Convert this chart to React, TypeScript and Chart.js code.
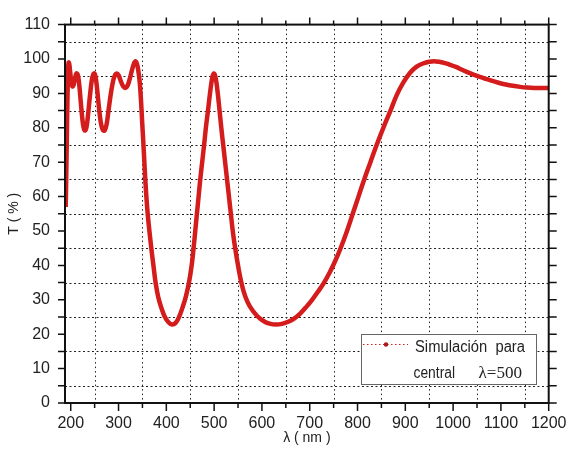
import { useEffect, useRef } from "react";
import { Chart, registerables } from "chart.js";

Chart.register(...registerables);

// Simulated transmittance spectrum of the filter designed for λ = 500 nm
const wavelengths = [
  189.5, 190.5, 191.5, 192.5, 193.5, 194.5, 195.5, 197, 199, 201, 203.5, 206, 209, 212, 215, 218,
  221, 224, 227, 230, 233, 236, 240, 244, 247, 249.5, 252, 255, 259, 263, 267, 271, 275, 279, 284,
  289, 293, 296, 300, 305, 310, 314.5, 319, 324, 329, 333, 336, 339, 342, 344.5, 347, 349.5, 352,
  355, 358, 361, 365, 369, 373, 377, 383, 390, 397, 405, 412, 419, 426, 434, 441, 448, 453, 457,
  460.5, 464, 467.5, 471, 475, 479, 483, 487, 490.5, 494, 497, 499.5, 502, 505, 508, 511, 515,
  519, 523, 527, 531, 535, 539, 544, 550, 557, 565, 575, 590, 605, 618, 629, 642, 655, 668, 680,
  692, 705, 718, 730, 742, 754, 766, 778, 790, 802, 814, 827, 840, 854, 869, 882, 896, 910, 923,
  937, 950, 964, 978, 992, 1006, 1020, 1035, 1050, 1065, 1080, 1095, 1110, 1125, 1140, 1155, 1170,
  1185, 1200,
];

const transmittance = [
  57, 65, 74, 83, 91, 96.5, 99, 98.5, 96, 93.5, 92, 92.5, 94.5, 95.8, 95.3, 92.2,
  87.5, 83, 80, 79.2, 80.2, 83.5, 89, 93.8, 95.5, 95.8, 94.8, 91.5, 86, 81.5, 79.4, 79.2, 81, 85, 90,
  93.8, 95.4, 95.8, 95.3, 93.5, 92, 91.6, 92.3, 94.5, 97.2, 98.9, 99.3, 98.4, 96, 93, 88, 81.5, 75.5,
  67.5, 60.5, 55, 49.5, 44.5, 40, 35.5, 30.8, 27.5, 25, 23.4, 22.8, 23.2, 24.8, 27.8, 31, 35.5, 40, 45,
  50, 55, 60, 65, 70, 75, 80.3, 84.8, 89, 92.8, 95.1, 95.8, 95.2, 93, 89.5, 85.5, 80,
  75, 70, 65, 60, 55, 50, 45, 40, 35, 31, 28, 25.3, 23.7, 23, 22.8, 23, 23.6, 24.6, 26,
  27.8, 30, 32.5, 35, 38, 41.5, 45.5, 50, 55, 60, 65, 70, 75, 80, 85, 89.5, 93.2, 96, 97.7,
  98.7, 99.2, 99.3, 99, 98.4, 97.7, 96.8, 95.9, 95.1, 94.4, 93.7, 93.1, 92.6, 92.2, 91.9, 91.7, 91.6,
  91.6, 91.6,
];

// Axis ticks: labelled every 100 nm / 10 %, with intermediate ticks and dotted grid between
const xTickValues = [
  200, 250, 300, 350, 400, 450, 500, 550, 600, 650, 700, 750, 800, 850, 900, 950, 1000, 1050,
  1100, 1150, 1200,
];
const yTickValues = [
  0, 5, 10, 15, 20, 25, 30, 35, 40, 45, 50, 55, 60, 65, 70, 75, 80, 85, 90, 95, 100, 105, 110,
];
const xGridValues = [250, 350, 450, 550, 650, 750, 850, 950, 1050, 1150];
const yGridValues = [5, 15, 25, 35, 45, 55, 65, 75, 85, 95, 105];

const xTitle = "λ ( nm )";
const yTitle = "T ( % )";
const legendLine1 = "Simulación  para";
const legendLine2 = "central";
const legendLambda = "λ=500";

const CURVE_RED = "#d41c1c";
const SANS = "'Liberation Sans', Arial, sans-serif";
const SERIF = "'Liberation Serif', 'Times New Roman', serif";

const framePlugin = {
  id: "frameAndGrid",
  beforeDatasetsDraw(chart: any) {
    const { ctx, chartArea, scales } = chart;
    const { left, right, top, bottom } = chartArea;
    ctx.save();
    ctx.strokeStyle = "#222";
    ctx.lineWidth = 1;
    ctx.setLineDash([2, 2.5]);
    for (const v of yGridValues) {
      const py = Math.round(scales.y.getPixelForValue(v)) + 0.5;
      ctx.beginPath();
      ctx.moveTo(left, py);
      ctx.lineTo(right, py);
      ctx.stroke();
    }
    ctx.setLineDash([1.5, 3]);
    for (const v of xGridValues) {
      const px = Math.round(scales.x.getPixelForValue(v)) + 0.5;
      ctx.beginPath();
      ctx.moveTo(px, top);
      ctx.lineTo(px, bottom);
      ctx.stroke();
    }
    ctx.restore();
  },
  afterDraw(chart: any) {
    const { ctx, chartArea, scales } = chart;
    const { left, right, top, bottom } = chartArea;
    ctx.save();
    ctx.strokeStyle = "#111";
    ctx.setLineDash([]);
    ctx.lineWidth = 1.5;
    for (const v of yTickValues) {
      const py = scales.y.getPixelForValue(v);
      ctx.beginPath();
      ctx.moveTo(left, py);
      ctx.lineTo(left - 7, py);
      ctx.moveTo(right, py);
      ctx.lineTo(right + 8, py);
      ctx.stroke();
    }
    for (const v of xTickValues) {
      const px = scales.x.getPixelForValue(v);
      const major = v % 100 === 0;
      ctx.beginPath();
      ctx.moveTo(px, bottom);
      ctx.lineTo(px, bottom + (major ? 8 : 5));
      ctx.moveTo(px, top);
      ctx.lineTo(px, top - (major ? 7 : 4));
      ctx.stroke();
    }
    ctx.lineWidth = 2;
    ctx.strokeRect(left, top, right - left, bottom - top);

    // legend box
    const bx = 361;
    const by = 334;
    const bw = 175;
    const bh = 50;
    ctx.fillStyle = "#fff";
    ctx.fillRect(bx, by, bw, bh);
    ctx.lineWidth = 1;
    ctx.strokeStyle = "#666";
    ctx.strokeRect(bx + 0.5, by + 0.5, bw, bh);
    ctx.strokeStyle = CURVE_RED;
    ctx.setLineDash([1.5, 2.5]);
    ctx.beginPath();
    ctx.moveTo(363, 344.5);
    ctx.lineTo(408, 344.5);
    ctx.stroke();
    ctx.setLineDash([]);
    ctx.fillStyle = "#b01818";
    ctx.beginPath();
    ctx.arc(386, 344.5, 2.2, 0, Math.PI * 2);
    ctx.fill();

    const stretched = (text: string, x: number, base: number, width: number, font: string) => {
      ctx.font = font;
      const w = ctx.measureText(text).width;
      ctx.save();
      ctx.translate(x, base);
      ctx.scale(width / w, 1);
      ctx.fillText(text, 0, 0);
      ctx.restore();
    };
    ctx.fillStyle = "#222";
    ctx.textBaseline = "alphabetic";
    ctx.textAlign = "left";
    stretched(legendLine1, 415, 351.5, 110, `16px ${SANS}`);
    stretched(legendLine2, 413.5, 378, 41.5, `16px ${SANS}`);
    stretched(legendLambda, 478.5, 378, 43.5, `17px ${SERIF}`);
    ctx.restore();
  },
};

export default function App() {
  const canvasRef = useRef<HTMLCanvasElement | null>(null);

  useEffect(() => {
    const canvas = canvasRef.current;
    if (!canvas) return;
    const points = wavelengths.map((w, i) => ({ x: w, y: transmittance[i] }));
    const chart = new Chart(canvas, {
      type: "line",
      data: {
        datasets: [
          {
            label: "Simulación para central λ=500",
            data: points,
            borderColor: CURVE_RED,
            backgroundColor: CURVE_RED,
            borderWidth: 4.5,
            pointRadius: 0,
            tension: 0.4,
            fill: false,
          },
        ],
      },
      options: {
        animation: false,
        responsive: false,
        devicePixelRatio: 1,
        layout: { padding: { left: 0, top: 21, right: 19, bottom: 0 } },
        plugins: {
          legend: { display: false },
          tooltip: { enabled: false },
        },
        scales: {
          x: {
            type: "linear",
            min: 188,
            max: 1200,
            afterBuildTicks: (axis: any) => {
              axis.ticks = xTickValues.map((v) => ({ value: v }));
            },
            afterFit: (axis: any) => {
              axis.height = 49;
            },
            grid: { display: false, drawTicks: false },
            border: { display: false },
            ticks: {
              autoSkip: false,
              maxRotation: 0,
              padding: 10.5,
              color: "#222",
              font: { family: SANS, size: 16 },
              callback: (v: any) => (Number(v) % 100 === 0 ? String(v) : ""),
            },
            title: {
              display: true,
              text: xTitle,
              color: "#222",
              font: { family: SANS, size: 14 },
              padding: { top: 0, bottom: 5 },
            },
          },
          y: {
            type: "linear",
            min: 0,
            max: 110,
            afterBuildTicks: (axis: any) => {
              axis.ticks = yTickValues.map((v) => ({ value: v }));
            },
            afterFit: (axis: any) => {
              axis.width = 65;
            },
            grid: { display: false, drawTicks: false },
            border: { display: false },
            ticks: {
              autoSkip: false,
              padding: 15,
              color: "#222",
              font: { family: SANS, size: 16 },
              callback: (v: any) => (Number(v) % 10 === 0 ? String(v) : ""),
            },
            title: {
              display: true,
              text: yTitle,
              color: "#222",
              font: { family: SANS, size: 14 },
              padding: { top: 6, bottom: 0 },
            },
          },
        },
      },
      plugins: [framePlugin],
    });
    return () => chart.destroy();
  }, []);

  return (
    <div
      style={{
        position: "fixed",
        left: 0,
        top: 0,
        width: 577,
        height: 452,
        background: "#fff",
      }}
    >
      <canvas ref={canvasRef} width={577} height={452} />
    </div>
  );
}
